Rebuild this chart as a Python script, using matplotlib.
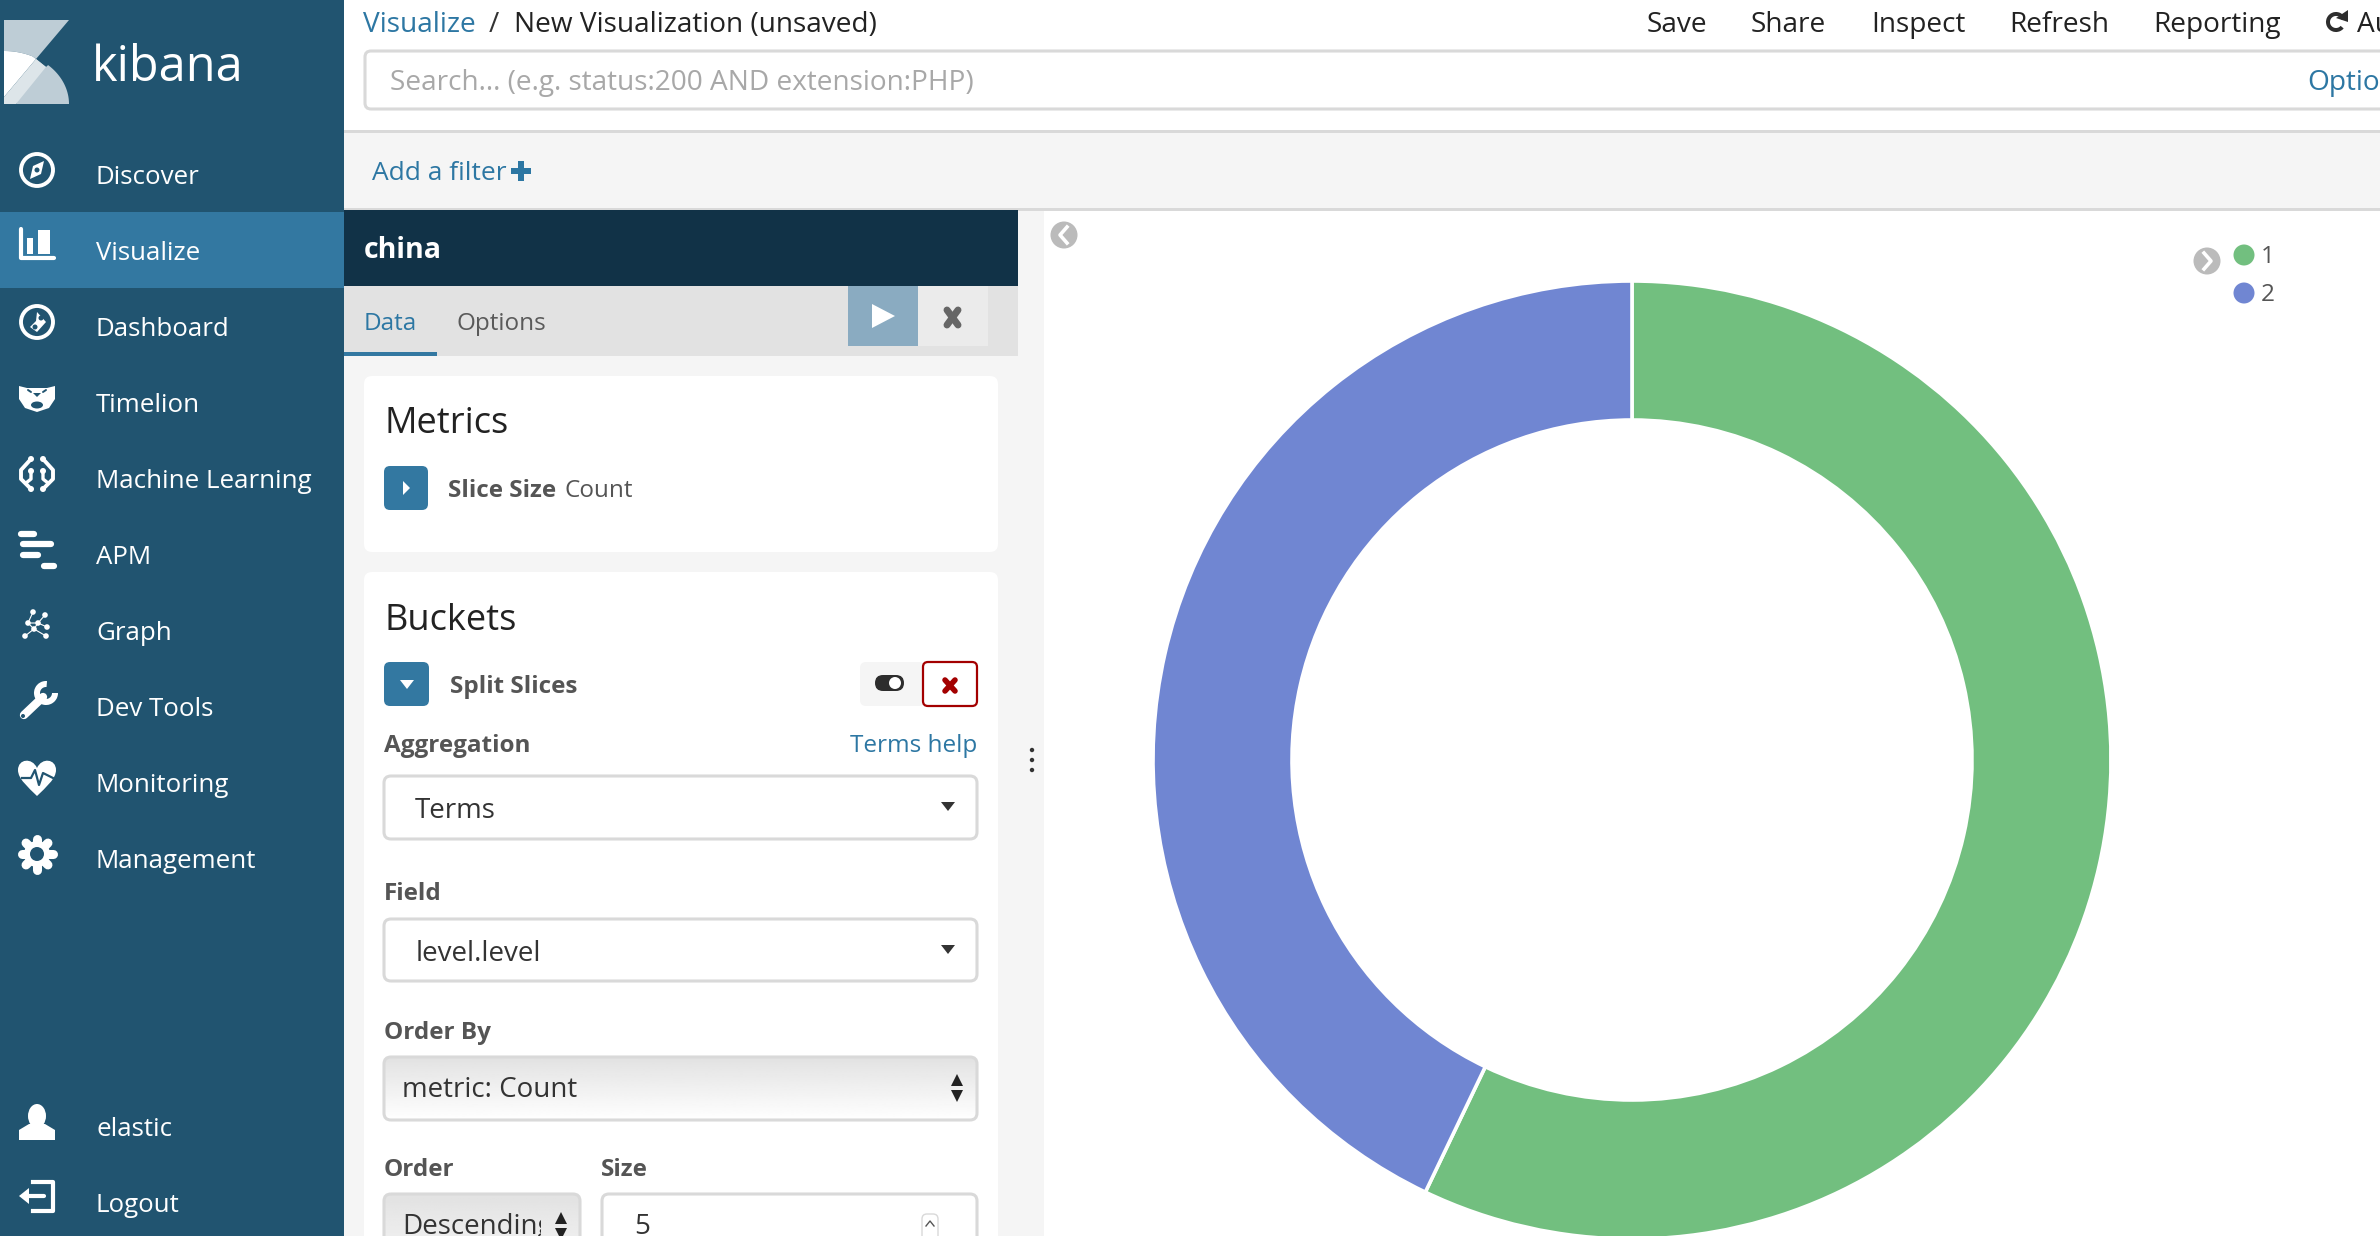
"""Kibana visualize screen with a two-slice donut chart."""

import numpy as np
import matplotlib
matplotlib.use("Agg")
import matplotlib.pyplot as plt
from matplotlib.patches import Circle, Ellipse, FancyBboxPatch, Polygon, Rectangle, Wedge, PathPatch
from matplotlib.path import Path

plt.rcParams["font.family"] = ["Open Sans", "DejaVu Sans"]

# Chart data
slice_labels = ["1", "2"]
slice_values = [57.1, 42.9]
slice_colors = ["#72BF7F", "#7086D2"]

# Screen texts
nav_labels = ["Discover", "Visualize", "Dashboard", "Timelion", "Machine Learning",
              "APM", "Graph", "Dev Tools", "Monitoring", "Management"]
nav_rows = [174, 250, 326, 402, 478, 554, 630, 706, 782, 858]
user_labels = ["elastic", "Logout"]
user_rows = [1127, 1203]
top_actions = ["Save", "Share", "Inspect", "Refresh", "Reporting"]
top_action_x = [1647, 1751, 1871, 2009, 2153]

SIDEBAR = "#215470"
ACTIVE = "#3378A1"
HEADER = "#113247"
PANEL = "#F5F5F5"
BORDER = "#D9D9D9"
LINK = "#2D77A3"
DARK = "#2D2D2D"
LABEL = "#555555"

fig = plt.figure(figsize=(23.8, 12.36), dpi=100, facecolor="white")
ax = fig.add_axes([0, 0, 1, 1])
ax.set_xlim(0, 2380)
ax.set_ylim(1236, 0)
ax.axis("off")


def rect(x0, y0, x1, y1, color, z=1):
    ax.add_patch(Rectangle((x0, y0), x1 - x0, y1 - y0, fc=color, ec="none", zorder=z))


def rbox(x0, y0, x1, y1, fc="white", ec="none", lw=0, r=6, z=2):
    p = FancyBboxPatch((x0 + r, y0 + r), x1 - x0 - 2 * r, y1 - y0 - 2 * r,
                       boxstyle=f"round,pad={r},rounding_size={r}",
                       fc=fc, ec=ec, lw=lw, zorder=z)
    ax.add_patch(p)
    return p


def label(x, y, s, size=17.5, color=DARK, weight="normal", ha="left", z=6):
    # rows are measured at the x-height middle, the text box sits a little higher
    return ax.text(x, y + 3, s, fontsize=size, color=color, fontweight=weight,
                   ha=ha, va="center", zorder=z)


def poly(points, color, z=5):
    ax.add_patch(Polygon(points, closed=True, fc=color, ec="none", zorder=z))


def stroke(xs, ys, lw=4, color="white", z=5):
    ax.plot(xs, ys, color=color, lw=lw, solid_capstyle="round", zorder=z)


def dot(x, y, r, color="white", z=5):
    ax.add_patch(Circle((x, y), r, fc=color, ec="none", zorder=z))


def select_box(y0, y1, text, text_x):
    rbox(384, y0, 977, y1, fc="white", ec=BORDER, lw=2.2, r=7, z=3)
    label(text_x, (y0 + y1) / 2 + 1, text, size=20, color="#333333")
    poly([(941, y0 + 26), (955, y0 + 26), (948, y0 + 35)], "#333333")


def gray_select(x0, x1, y0, y1):
    box = rbox(x0, y0, x1, y1, fc="none", ec=BORDER, lw=2.2, r=7, z=4)
    grad = np.linspace(0.885, 1.0, 64).reshape(-1, 1)
    img = ax.imshow(grad, cmap="gray", vmin=0, vmax=1, aspect="auto",
                    extent=(x0, x1, y1, y0), zorder=3)
    img.set_clip_path(box)
    ax.set_xlim(0, 2380)
    ax.set_ylim(1236, 0)


def updown(x, y_up, y_down):
    poly([(x - 6, y_up + 6), (x + 6, y_up + 6), (x, y_up - 6)], "#222222")
    poly([(x - 6, y_down - 6), (x + 6, y_down - 6), (x, y_down + 6)], "#222222")


def chevron_button(x, y, left):
    dot(x, y, 13.5, color="#BBBBBB")
    d = -1 if left else 1
    ax.plot([x - 3 * d, x + 4 * d, x - 3 * d], [y - 8, y, y + 8], color="white",
            lw=2.6, zorder=6)


# Backgrounds
rect(0, 0, 344, 1236, SIDEBAR)
rect(0, 212, 344, 288, ACTIVE, z=2)
rect(344, 131, 2380, 209, PANEL)
rect(344, 130, 2380, 132.5, BORDER, z=2)
rect(344, 208, 2380, 210.5, BORDER, z=2)
rect(344, 210, 1044, 1236, PANEL)
rect(344, 210, 1018, 286, HEADER, z=2)
rect(344, 286, 1018, 356, "#E2E2E2", z=2)
rect(344, 352, 437, 356, ACTIVE, z=3)

# Logo
theta = np.linspace(np.pi / 2, 0, 60)
arc = np.column_stack([4 + 65 * np.cos(theta), 104 - 53 * np.sin(theta)])
poly([(4, 20), (69, 20), (36, 59)] + [tuple(p) for p in arc[:18][::-1]], "#BECDD6")
poly([(36, 59), (46, 67)] + [tuple(p) for p in arc[28:]] + [(16, 104)], "#BECDD6")
poly([tuple(p) for p in arc[:18]] + [(36, 59), (4, 97)], "white", z=6)
poly([(36, 59), (46, 67), (16, 104), (4, 104), (4, 97)], "#DDE5E9", z=7)
label(92, 65, "kibana", size=35, color="white")

# Navigation
for text, row in zip(nav_labels, nav_rows):
    label(96, row, text, size=18.6, color="white")
for text, row in zip(user_labels, user_rows):
    label(96, row, text, size=18.6, color="white")

# Discover
ax.add_patch(Circle((37, 170), 16, fc="none", ec="white", lw=2.8, zorder=5))
poly([(44, 161), (41, 174), (30, 179), (33, 166)], "white")
dot(37, 170, 2.5, color=SIDEBAR, z=6)
# Visualize
stroke([21, 21, 54], [229, 258, 258], lw=3)
rect(27, 238, 33, 254, "white", z=5)
rect(38, 230, 50, 254, "white", z=5)
# Dashboard
ax.add_patch(Circle((37, 322), 16, fc="none", ec="white", lw=2.8, zorder=5))
poly([(37, 312), (46, 322), (37, 332), (30, 327), (36, 321)], "white")
dot(41, 318, 2.5, color=SIDEBAR, z=6)
dot(35, 327, 2.5, color=SIDEBAR, z=6)
# Timelion
poly([(19, 386), (27, 388), (47, 388), (55, 386), (55, 399), (49, 408), (37, 412),
      (25, 408), (19, 399)], "white")
ax.add_patch(Ellipse((37, 405), 12, 7, fc=SIDEBAR, ec="none", zorder=6))
poly([(33, 393), (41, 393), (37, 397)], SIDEBAR, z=6)
stroke([28, 31], [390, 392], lw=1.4, color=SIDEBAR, z=6)
stroke([46, 43], [390, 392], lw=1.4, color=SIDEBAR, z=6)
# Machine Learning
for side in (-1, 1):
    stroke([37 + side * 6, 37 + side * 16, 37 + side * 16, 37 + side * 6],
           [459, 470, 479, 489], lw=2.8)
    stroke([37 + side * 6, 37 + side * 6, 37 + side * 11], [471, 479, 483], lw=2.4)
    for py in (459, 471, 489):
        dot(37 + side * 6, py, 3)
# APM
stroke([21, 34], [534, 534], lw=4.5)
stroke([23, 51], [544, 544], lw=4.5)
stroke([23, 38], [555, 555], lw=4.5)
stroke([44, 54], [566, 566], lw=4.5)
# Graph
for px, py in [(33, 612), (45, 615), (28, 623), (38, 623), (47, 627), (34, 629), (25, 636), (46, 636)]:
    dot(px, py, 2.8)
stroke([33, 28, 38, 45], [612, 623, 623, 615], lw=0.8)
stroke([47, 38, 34, 25], [627, 623, 629, 636], lw=0.8)
stroke([28, 34, 46], [623, 629, 636], lw=0.8)
# Dev Tools
stroke([24, 43], [715, 697], lw=6)
ax.add_patch(Wedge((46, 693), 12, 0, 275, width=6, fc="white", ec="none", zorder=5))
dot(23, 716, 2, color=SIDEBAR, z=6)
# Monitoring
heart = Path([(37, 796), (28, 787), (18, 779), (18, 770), (18, 759), (32, 757), (37, 768),
              (42, 757), (56, 759), (56, 770), (56, 779), (46, 787), (37, 796)],
             [Path.MOVETO] + [Path.CURVE4] * 12)
ax.add_patch(PathPatch(heart, fc="white", ec="none", zorder=5))
ax.plot([22, 31, 35, 39, 43, 53], [778, 778, 770, 785, 773, 778], color=SIDEBAR, lw=1.6, zorder=6)
# Management
dot(37, 854, 13)
for angle in np.arange(0, 360, 45):
    c, s = np.cos(np.radians(angle)), np.sin(np.radians(angle))
    stroke([37 + 12 * c, 37 + 15.5 * c], [854 + 12 * s, 854 + 15.5 * s], lw=6.5)
dot(37, 854, 7, color=SIDEBAR, z=6)
# elastic
ax.add_patch(Ellipse((37, 1116), 18, 24, fc="white", ec="none", zorder=5))
poly([(19, 1140), (19, 1130), (29, 1124), (45, 1124), (55, 1130), (55, 1140)], "white")
# Logout
ax.plot([33, 53, 53, 33], [1182, 1182, 1211, 1211], color="white", lw=3, zorder=5)
stroke([26, 44], [1196, 1196], lw=3)
poly([(19, 1196), (29, 1188), (29, 1204)], "white")

# Top bar
label(363, 22, "Visualize", size=20.2, color=LINK)
label(489, 22, "/", size=20.2, color="#333333")
label(514, 22, "New Visualization (unsaved)", size=20.2, color="#222222")
for text, x in zip(top_actions, top_action_x):
    label(x, 22, text, size=20.2, color="#222222")
ax.add_patch(Wedge((2336, 22), 10, 40, 340, width=4, fc=DARK, ec="none", zorder=5))
poly([(2348, 10), (2348, 22), (2336, 18)], DARK)
label(2357, 22, "Auto-refresh", size=20.2, color="#222222")

rbox(365, 51, 2500, 109, fc="white", ec=BORDER, lw=2.2, r=6, z=3)
label(390, 80, "Search... (e.g. status:200 AND extension:PHP)", size=20.2, color="#A8A8A8")
label(2307, 80, "Options", size=20.2, color=LINK)

label(372, 170, "Add a filter", size=19, color=LINK)
rect(518, 161, 524, 181, LINK, z=5)
rect(511, 168, 531, 174, LINK, z=5)

# Editor header and tabs
label(364, 248, "china", size=20.5, color="white", weight="bold")
label(364, 321, "Data", size=17.5, color=LINK)
label(456, 321, "Options", size=17.5, color="#5A5A5A")
rect(848, 286, 918, 346, "#8AABC1", z=3)
rect(918, 286, 988, 346, "#EBEBEB", z=3)
poly([(872, 304), (895, 316), (872, 328)], "white")
stroke([947, 958], [310, 325], lw=5, color="#666666")
stroke([958, 947], [310, 325], lw=5, color="#666666")

# Metrics card
rbox(364, 376, 998, 552, r=8)
label(384, 421, "Metrics", size=26, color="#222222")
rbox(384, 466, 428, 510, fc=ACTIVE, r=6, z=3)
poly([(403, 481), (410, 488), (403, 495)], "white")
label(448, 488, "Slice Size", size=17.5, color=LABEL, weight="bold")
label(565, 488, "Count", size=17.5, color=LABEL)

# Buckets card
rbox(364, 572, 998, 1300, r=8)
label(384, 618, "Buckets", size=26, color="#222222")
rbox(384, 662, 429, 706, fc=ACTIVE, r=6, z=3)
poly([(400, 680), (414, 680), (407, 689)], "white")
label(450, 684, "Split Slices", size=17.5, color=LABEL, weight="bold")
rbox(860, 662, 925, 706, fc=PANEL, r=6, z=3)
rbox(923, 662, 977, 706, fc="white", ec="#A30000", lw=1.6, r=5, z=4)
rbox(875, 675, 904, 691, fc=DARK, r=8, z=5)
dot(895, 683, 6, z=6)
stroke([945, 955], [680, 691], lw=4, color="#A30000")
stroke([955, 945], [680, 691], lw=4, color="#A30000")

label(384, 743, "Aggregation", size=17.5, color=LABEL, weight="bold")
label(977, 743, "Terms help", size=17.5, color=LINK, ha="right")
select_box(776, 839, "Terms", 415)
label(384, 891, "Field", size=17.5, color=LABEL, weight="bold")
select_box(919, 981, "level.level", 416)
label(384, 1030, "Order By", size=17.5, color=LABEL, weight="bold")
gray_select(384, 977, 1057, 1120)
label(402, 1087, "metric: Count", size=20, color="#333333")
updown(957, 1080, 1096)
label(384, 1167, "Order", size=17.5, color=LABEL, weight="bold")
label(601, 1167, "Size", size=17.5, color=LABEL, weight="bold")
gray_select(384, 580, 1194, 1300)
order_text = label(402, 1224, "Descending", size=20, color="#333333")
order_text.set_clip_on(True)
order_text.set_clip_path(Rectangle((384, 1194), 157, 106, transform=ax.transData))
updown(561, 1218, 1234)
rbox(602, 1194, 977, 1300, fc="white", ec=BORDER, lw=2.2, r=7, z=3)
label(634, 1224, "5", size=20, color="#333333")
rbox(922, 1214, 938, 1250, fc="white", ec=BORDER, lw=1, r=5, z=4)
ax.plot([926, 930, 934], [1226, 1221, 1226], color="#555555", lw=1, zorder=5)

# Collapse handle between editor and chart
for dot_y in (750, 760, 770):
    dot(1032, dot_y, 2.2, color="#333333")

# Legend
chevron_button(1064, 235, left=True)
chevron_button(2207, 261, left=False)
for name, color, y in zip(slice_labels, slice_colors, [255, 293]):
    dot(2244, y, 10.5, color=color)
    label(2261, y - 1, name, size=17.5, color=LABEL)

# Donut
center_x, center_y, radius, inner = 1632, 760, 479, 340
pie_ax = fig.add_axes([(center_x - radius) / 2380, 1 - (center_y + radius) / 1236,
                       2 * radius / 2380, 2 * radius / 1236])
pie_ax.pie(slice_values, colors=slice_colors, startangle=90, counterclock=False, radius=1,
           wedgeprops={"width": 1 - inner / radius, "edgecolor": "white", "linewidth": 2.6})
pie_ax.set_xlim(-1, 1)
pie_ax.set_ylim(-1, 1)
pie_ax.patch.set_alpha(0)

fig.savefig("out.png", dpi=100)
